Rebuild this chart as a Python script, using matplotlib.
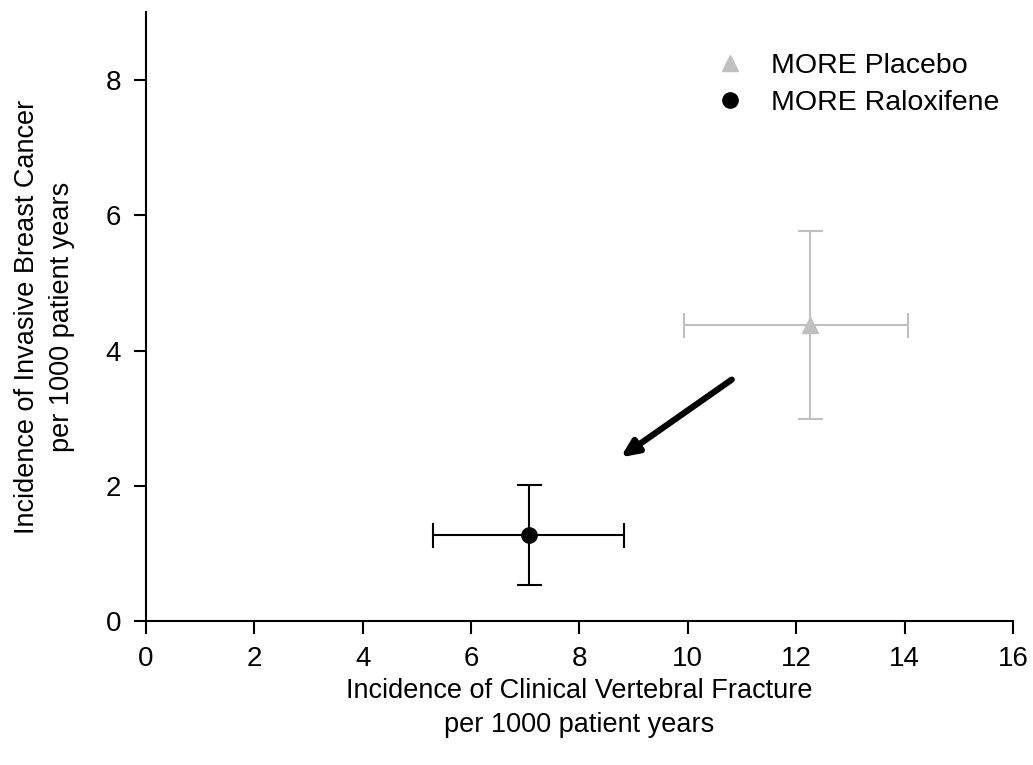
import numpy as np
import matplotlib.pyplot as plt

plt.rcParams['font.family'] = ['Liberation Sans', 'DejaVu Sans']

# values
labels = ['MORE Placebo', 'MORE Raloxifene']
x_vals = [12.25, 7.07]
y_vals = [4.38, 1.27]
x_low = [9.93, 5.30]
x_high = [14.06, 8.82]
y_low = [2.99, 0.53]
y_high = [5.77, 2.01]
colors = ['#c0c0c0', 'black']
markers = ['^', 'o']

arrow_start = (10.81, 3.57)
arrow_end = (8.76, 2.42)

fig = plt.figure(figsize=(10.33, 7.65), dpi=100)
ax = fig.add_axes([0.1413, 0.1882, 0.8393, 0.7955])

handles = []
for i in range(len(labels)):
    xerr = [[x_vals[i] - x_low[i]], [x_high[i] - x_vals[i]]]
    yerr = [[y_vals[i] - y_low[i]], [y_high[i] - y_vals[i]]]
    ax.errorbar([x_vals[i]], [y_vals[i]], xerr=xerr, yerr=yerr, fmt='none',
                ecolor=colors[i], elinewidth=1.5, capsize=9, capthick=1.5)
    h, = ax.plot([x_vals[i]], [y_vals[i]], linestyle='none', marker=markers[i],
                 color=colors[i], markersize=11, label=labels[i])
    handles.append(h)

ax.annotate('', xy=arrow_end, xytext=arrow_start,
            arrowprops=dict(arrowstyle='-|>,head_length=1.0,head_width=0.45',
                            color='black', lw=4.5, capstyle='round',
                            shrinkA=0, shrinkB=0))

ax.set_xlim(0, 16)
ax.set_ylim(0, 9)
ax.set_xticks(np.arange(0, 17, 2))
ax.set_yticks(np.arange(0, 9, 2))
ax.spines['top'].set_visible(False)
ax.spines['right'].set_visible(False)
for s in ['left', 'bottom']:
    ax.spines[s].set_linewidth(1.5)
ax.tick_params(direction='out', length=9, width=1.5, labelsize=20, pad=9)

ax.set_xlabel('Incidence of Clinical Vertebral Fracture\nper 1000 patient years',
              fontsize=19.5, labelpad=4, linespacing=1.4)
ax.set_ylabel('Incidence of Invasive Breast Cancer\nper 1000 patient years',
              fontsize=19.5, labelpad=22, linespacing=1.45)

ax.legend(handles=handles, loc='upper right', bbox_to_anchor=(1.014, 0.976),
          frameon=False, fontsize=20.5, handletextpad=0.7, labelspacing=0.4,
          handlelength=1.5)

fig.savefig('out.png', dpi=100)
